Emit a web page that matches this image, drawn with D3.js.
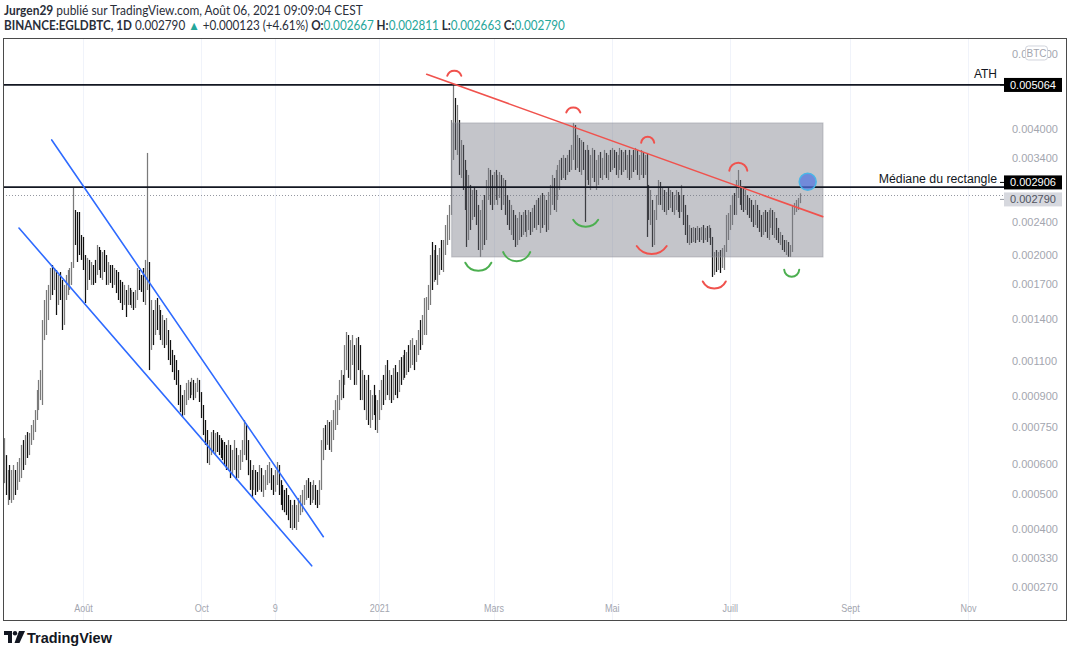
<!DOCTYPE html>
<html>
<head>
<meta charset="utf-8">
<script src="https://cdn.jsdelivr.net/npm/d3@7/dist/d3.min.js"></script>
<style>
html,body{margin:0;padding:0;background:#fff;}
svg{display:block;font-family:"Liberation Sans",Arial,sans-serif;}
</style>
</head>
<body>
<svg id="chart" width="1072" height="654"></svg>
<script>
// ===== DATA (EGLD/BTC daily bars, Binance) =====
const firstBarDate = "2020-06-21";
const high = [
702e-6,634e-6,579e-6,597e-6,579e-6,597e-6,579e-6,608e-6,623e-6,674e-6,
694e-6,715e-6,728e-6,724e-6,759e-6,782e-6,829e-6,932e-6,988e-6,1046e-6,
1391e-6,1557e-6,1647e-6,1694e-6,1862e-6,1893e-6,1862e-6,1841e-6,1791e-6,1821e-6,
1742e-6,1694e-6,1791e-6,1841e-6,1862e-6,1925e-6,2894e-6,2565e-6,2537e-6,2537e-6,
2235e-6,2211e-6,2001e-6,1969e-6,1947e-6,1925e-6,1893e-6,1947e-6,2115e-6,2092e-6,
2057e-6,2035e-6,2057e-6,2001e-6,1925e-6,1893e-6,1893e-6,1862e-6,1841e-6,1821e-6,
1742e-6,1723e-6,1694e-6,1647e-6,1694e-6,1666e-6,1647e-6,1629e-6,1647e-6,1862e-6,
1841e-6,1791e-6,1862e-6,1947e-6,3503e-6,1925e-6,1557e-6,1472e-6,1557e-6,1575e-6,
1514e-6,1472e-6,1431e-6,1391e-6,1407e-6,1315e-6,1242e-6,1174e-6,1140e-6,1108e-6,
1046e-6,960e-6,905e-6,932e-6,971e-6,988e-6,977e-6,1000e-6,988e-6,971e-6,
1000e-6,988e-6,921e-6,854e-6,782e-6,737e-6,694e-6,728e-6,737e-6,724e-6,
728e-6,715e-6,702e-6,694e-6,686e-6,674e-6,694e-6,674e-6,654e-6,694e-6,
662e-6,634e-6,654e-6,694e-6,782e-6,759e-6,694e-6,615e-6,579e-6,597e-6,
579e-6,572e-6,597e-6,586e-6,561e-6,579e-6,597e-6,608e-6,586e-6,561e-6,
579e-6,608e-6,597e-6,544e-6,528e-6,512e-6,518e-6,496e-6,481e-6,466e-6,
481e-6,466e-6,487e-6,496e-6,512e-6,528e-6,544e-6,551e-6,538e-6,528e-6,
544e-6,528e-6,512e-6,544e-6,694e-6,746e-6,759e-6,782e-6,773e-6,782e-6,
829e-6,879e-6,905e-6,988e-6,1046e-6,1017e-6,1207e-6,1300e-6,1278e-6,1242e-6,
1278e-6,1207e-6,1256e-6,1264e-6,1207e-6,1046e-6,1017e-6,988e-6,1017e-6,932e-6,
905e-6,960e-6,905e-6,879e-6,932e-6,988e-6,1017e-6,1077e-6,1108e-6,1046e-6,
1017e-6,1058e-6,1077e-6,1034e-6,1108e-6,1127e-6,1140e-6,1174e-6,1160e-6,1207e-6,
1242e-6,1256e-6,1207e-6,1242e-6,1315e-6,1391e-6,1431e-6,1575e-6,1583e-6,1694e-6,
2001e-6,2150e-6,2057e-6,2115e-6,2001e-6,2080e-6,2174e-6,2174e-6,2362e-6,2496e-6,
2637e-6,4190e-6,5064e-6,4720e-6,4545e-6,4190e-6,3759e-6,3659e-6,3372e-6,3193e-6,
3107e-6,2942e-6,2862e-6,2910e-6,2862e-6,2637e-6,2565e-6,2710e-6,2785e-6,3023e-6,
3228e-6,3193e-6,3107e-6,3158e-6,3193e-6,3107e-6,3158e-6,3107e-6,3056e-6,3023e-6,
2785e-6,2710e-6,2637e-6,2565e-6,2496e-6,2455e-6,2537e-6,2496e-6,2537e-6,2565e-6,
2496e-6,2565e-6,2537e-6,2594e-6,2637e-6,2710e-6,2740e-6,2785e-6,2815e-6,2785e-6,
2710e-6,2831e-6,2942e-6,3107e-6,3056e-6,3193e-6,3281e-6,3372e-6,3410e-6,3465e-6,
3410e-6,3465e-6,3561e-6,3659e-6,4123e-6,4078e-6,3863e-6,3800e-6,3759e-6,3719e-6,
3561e-6,3659e-6,3561e-6,3465e-6,3600e-6,3561e-6,3372e-6,3465e-6,3522e-6,3410e-6,
3561e-6,3503e-6,3465e-6,3561e-6,3600e-6,3561e-6,3522e-6,3465e-6,3600e-6,3561e-6,
3522e-6,3561e-6,3465e-6,3561e-6,3465e-6,3561e-6,3600e-6,3561e-6,3465e-6,3561e-6,
3522e-6,3465e-6,3503e-6,2942e-6,2862e-6,2710e-6,2565e-6,2785e-6,3023e-6,2990e-6,
2894e-6,2862e-6,2831e-6,2894e-6,2862e-6,2831e-6,2785e-6,2862e-6,2831e-6,2785e-6,
2942e-6,2785e-6,2637e-6,2496e-6,2362e-6,2324e-6,2336e-6,2324e-6,2349e-6,2324e-6,
2336e-6,2362e-6,2324e-6,2349e-6,2362e-6,2324e-6,2211e-6,2035e-6,2057e-6,2035e-6,
2057e-6,2080e-6,2115e-6,2496e-6,2523e-6,2637e-6,2785e-6,2815e-6,3023e-6,3193e-6,
3023e-6,2910e-6,2894e-6,2862e-6,2785e-6,2740e-6,2710e-6,2637e-6,2710e-6,2637e-6,
2565e-6,2496e-6,2537e-6,2565e-6,2537e-6,2565e-6,2594e-6,2565e-6,2537e-6,2455e-6,
2324e-6,2273e-6,2235e-6,2174e-6,2174e-6,2150e-6,2115e-6,2637e-6,2666e-6,2710e-6,
2740e-6,2811e-6];
const low = [
534e-6,496e-6,466e-6,481e-6,472e-6,481e-6,496e-6,512e-6,538e-6,551e-6,
579e-6,597e-6,623e-6,634e-6,674e-6,694e-6,728e-6,782e-6,829e-6,879e-6,
854e-6,1242e-6,1278e-6,1391e-6,1557e-6,1601e-6,1647e-6,1431e-6,1514e-6,1557e-6,
1315e-6,1353e-6,1557e-6,1601e-6,1647e-6,1694e-6,1862e-6,2115e-6,1925e-6,2001e-6,
1947e-6,1841e-6,1531e-6,1647e-6,1742e-6,1694e-6,1694e-6,1713e-6,1791e-6,1841e-6,
1762e-6,1742e-6,1821e-6,1694e-6,1694e-6,1713e-6,1666e-6,1694e-6,1619e-6,1557e-6,
1531e-6,1472e-6,1514e-6,1415e-6,1514e-6,1514e-6,1489e-6,1472e-6,1489e-6,1557e-6,
1647e-6,1629e-6,1540e-6,1514e-6,1647e-6,1046e-6,1174e-6,1207e-6,1278e-6,1315e-6,
1278e-6,1242e-6,1207e-6,1187e-6,1207e-6,1108e-6,1077e-6,1034e-6,988e-6,960e-6,
854e-6,819e-6,796e-6,805e-6,854e-6,879e-6,889e-6,905e-6,879e-6,889e-6,
921e-6,869e-6,791e-6,715e-6,674e-6,604e-6,597e-6,634e-6,646e-6,634e-6,
646e-6,634e-6,623e-6,615e-6,597e-6,579e-6,579e-6,551e-6,561e-6,579e-6,
544e-6,551e-6,579e-6,608e-6,634e-6,615e-6,561e-6,512e-6,490e-6,512e-6,
496e-6,506e-6,512e-6,506e-6,490e-6,512e-6,528e-6,534e-6,512e-6,496e-6,
506e-6,528e-6,496e-6,466e-6,451e-6,445e-6,437e-6,423e-6,402e-6,397e-6,
402e-6,397e-6,418e-6,437e-6,445e-6,466e-6,481e-6,487e-6,466e-6,472e-6,
481e-6,466e-6,457e-6,466e-6,512e-6,615e-6,654e-6,674e-6,654e-6,646e-6,
694e-6,737e-6,759e-6,829e-6,879e-6,889e-6,960e-6,1046e-6,1000e-6,988e-6,
1077e-6,960e-6,960e-6,1046e-6,879e-6,879e-6,829e-6,782e-6,759e-6,746e-6,
782e-6,805e-6,737e-6,724e-6,782e-6,829e-6,854e-6,879e-6,905e-6,879e-6,
864e-6,879e-6,905e-6,889e-6,921e-6,960e-6,988e-6,1000e-6,1017e-6,1034e-6,
1058e-6,1077e-6,1046e-6,1096e-6,1140e-6,1174e-6,1207e-6,1278e-6,1278e-6,1472e-6,
1514e-6,1647e-6,1723e-6,1742e-6,1694e-6,1791e-6,1841e-6,1821e-6,2001e-6,2115e-6,
2174e-6,2496e-6,3372e-6,3561e-6,3465e-6,3107e-6,3056e-6,2862e-6,2565e-6,2092e-6,
2174e-6,2298e-6,2428e-6,2469e-6,2362e-6,2057e-6,1979e-6,2057e-6,2115e-6,2174e-6,
2710e-6,2637e-6,2565e-6,2637e-6,2710e-6,2637e-6,2740e-6,2565e-6,2637e-6,2496e-6,
2362e-6,2298e-6,2235e-6,2174e-6,2092e-6,2115e-6,2174e-6,2211e-6,2235e-6,2273e-6,
2211e-6,2298e-6,2235e-6,2273e-6,2324e-6,2298e-6,2362e-6,2260e-6,2324e-6,2362e-6,
2273e-6,2298e-6,2496e-6,2637e-6,2565e-6,2537e-6,2710e-6,2862e-6,3023e-6,3056e-6,
3023e-6,3107e-6,3158e-6,3193e-6,3372e-6,3193e-6,3228e-6,3158e-6,3107e-6,3193e-6,
2402e-6,3023e-6,2942e-6,2862e-6,3056e-6,2990e-6,2862e-6,2942e-6,3056e-6,3023e-6,
3107e-6,3056e-6,3023e-6,3158e-6,3193e-6,3228e-6,3107e-6,3056e-6,3193e-6,3107e-6,
3158e-6,3193e-6,3056e-6,3023e-6,3056e-6,3158e-6,3193e-6,3107e-6,3023e-6,3107e-6,
3056e-6,3107e-6,2211e-6,2428e-6,2362e-6,2092e-6,2115e-6,2428e-6,2637e-6,2637e-6,
2565e-6,2537e-6,2496e-6,2565e-6,2594e-6,2537e-6,2496e-6,2565e-6,2537e-6,2455e-6,
2537e-6,2362e-6,2235e-6,2139e-6,2115e-6,2139e-6,2150e-6,2139e-6,2174e-6,2150e-6,
2174e-6,2139e-6,2174e-6,2150e-6,2199e-6,2115e-6,1771e-6,1791e-6,1821e-6,1841e-6,
1811e-6,1862e-6,1841e-6,2035e-6,2174e-6,2298e-6,2362e-6,2496e-6,2496e-6,2740e-6,
2637e-6,2565e-6,2537e-6,2565e-6,2496e-6,2455e-6,2402e-6,2336e-6,2362e-6,2324e-6,
2273e-6,2211e-6,2235e-6,2273e-6,2199e-6,2174e-6,2324e-6,2235e-6,2199e-6,2174e-6,
2139e-6,2115e-6,2057e-6,2035e-6,2001e-6,1979e-6,1979e-6,2035e-6,2496e-6,2537e-6,
2565e-6,2663e-6];
const close = [
579e-6,512e-6,544e-6,496e-6,528e-6,551e-6,512e-6,579e-6,597e-6,654e-6,
608e-6,694e-6,654e-6,702e-6,737e-6,759e-6,805e-6,905e-6,943e-6,1000e-6,
1353e-6,1472e-6,1557e-6,1601e-6,1791e-6,1694e-6,1811e-6,1557e-6,1742e-6,1647e-6,
1407e-6,1601e-6,1694e-6,1742e-6,1791e-6,1862e-6,2496e-6,2428e-6,2174e-6,2115e-6,
2057e-6,1925e-6,1647e-6,1893e-6,1841e-6,1841e-6,1791e-6,1742e-6,2057e-6,2001e-6,
1841e-6,1969e-6,1925e-6,1791e-6,1841e-6,1791e-6,1742e-6,1821e-6,1694e-6,1629e-6,
1601e-6,1557e-6,1647e-6,1514e-6,1629e-6,1575e-6,1601e-6,1514e-6,1557e-6,1791e-6,
1723e-6,1666e-6,1601e-6,1841e-6,1893e-6,1315e-6,1391e-6,1315e-6,1489e-6,1391e-6,
1431e-6,1315e-6,1353e-6,1242e-6,1278e-6,1140e-6,1108e-6,1096e-6,1017e-6,1000e-6,
905e-6,854e-6,829e-6,905e-6,905e-6,960e-6,932e-6,960e-6,932e-6,943e-6,
977e-6,889e-6,805e-6,737e-6,694e-6,654e-6,662e-6,694e-6,674e-6,694e-6,
674e-6,662e-6,654e-6,646e-6,623e-6,597e-6,662e-6,579e-6,623e-6,654e-6,
572e-6,608e-6,634e-6,662e-6,737e-6,654e-6,586e-6,538e-6,518e-6,561e-6,
544e-6,528e-6,579e-6,518e-6,544e-6,551e-6,572e-6,586e-6,528e-6,518e-6,
551e-6,579e-6,512e-6,487e-6,475e-6,466e-6,451e-6,437e-6,418e-6,445e-6,
423e-6,451e-6,466e-6,481e-6,496e-6,518e-6,528e-6,512e-6,481e-6,506e-6,
518e-6,487e-6,475e-6,528e-6,654e-6,715e-6,694e-6,737e-6,674e-6,759e-6,
782e-6,854e-6,879e-6,932e-6,1000e-6,960e-6,1174e-6,1207e-6,1034e-6,1174e-6,
1207e-6,988e-6,1174e-6,1108e-6,932e-6,1000e-6,854e-6,905e-6,791e-6,829e-6,
879e-6,854e-6,759e-6,829e-6,889e-6,960e-6,889e-6,1034e-6,932e-6,960e-6,
905e-6,1017e-6,960e-6,932e-6,1046e-6,1017e-6,1077e-6,1046e-6,1121e-6,1077e-6,
1160e-6,1207e-6,1140e-6,1207e-6,1256e-6,1242e-6,1353e-6,1514e-6,1557e-6,1557e-6,
1925e-6,1791e-6,1947e-6,1841e-6,1925e-6,2001e-6,1893e-6,2080e-6,2273e-6,2362e-6,
2496e-6,3465e-6,4190e-6,3759e-6,4078e-6,3281e-6,3561e-6,3023e-6,2710e-6,2235e-6,
2710e-6,2496e-6,2785e-6,2565e-6,2428e-6,2174e-6,2298e-6,2565e-6,2174e-6,2862e-6,
2942e-6,2785e-6,2710e-6,3023e-6,2862e-6,2942e-6,3023e-6,2710e-6,2862e-6,2565e-6,
2496e-6,2362e-6,2402e-6,2273e-6,2174e-6,2298e-6,2362e-6,2298e-6,2428e-6,2324e-6,
2362e-6,2496e-6,2298e-6,2455e-6,2402e-6,2565e-6,2428e-6,2637e-6,2496e-6,2710e-6,
2362e-6,2740e-6,2831e-6,2942e-6,2710e-6,3056e-6,3107e-6,3281e-6,3158e-6,3372e-6,
3228e-6,3336e-6,3281e-6,3561e-6,3969e-6,3372e-6,3659e-6,3281e-6,3561e-6,3336e-6,
3193e-6,3372e-6,3107e-6,3281e-6,3465e-6,3107e-6,3193e-6,3336e-6,3193e-6,3281e-6,
3465e-6,3158e-6,3372e-6,3281e-6,3465e-6,3336e-6,3193e-6,3372e-6,3522e-6,3228e-6,
3410e-6,3281e-6,3372e-6,3107e-6,3372e-6,3281e-6,3465e-6,3193e-6,3281e-6,3410e-6,
3158e-6,3372e-6,2710e-6,2565e-6,2785e-6,2235e-6,2496e-6,2710e-6,2942e-6,2740e-6,
2831e-6,2637e-6,2740e-6,2710e-6,2785e-6,2594e-6,2710e-6,2740e-6,2637e-6,2565e-6,
2710e-6,2455e-6,2324e-6,2199e-6,2273e-6,2174e-6,2273e-6,2199e-6,2298e-6,2235e-6,
2273e-6,2199e-6,2273e-6,2223e-6,2298e-6,2174e-6,1925e-6,1969e-6,1862e-6,1990e-6,
1893e-6,2001e-6,2057e-6,2362e-6,2428e-6,2496e-6,2637e-6,2565e-6,2831e-6,2894e-6,
2785e-6,2710e-6,2637e-6,2740e-6,2594e-6,2537e-6,2455e-6,2402e-6,2565e-6,2362e-6,
2324e-6,2273e-6,2428e-6,2324e-6,2235e-6,2455e-6,2496e-6,2298e-6,2362e-6,2235e-6,
2174e-6,2199e-6,2115e-6,2080e-6,2150e-6,2035e-6,2057e-6,2565e-6,2594e-6,2623e-6,
2667e-6,2790e-6];

// price scale ticks (as labelled on the right axis)
const priceTicks = [0.006, 0.004, 0.0034, 0.0024, 0.002, 0.0017, 0.0014, 0.0011, 0.0009, 0.00075, 0.0006, 0.0005, 0.0004, 0.00033, 0.00027];
// time axis ticks and their labels
const timeTicks = ["2020-08-01", "2020-10-01", "2020-11-08", "2021-01-01", "2021-03-01", "2021-05-01", "2021-07-01", "2021-09-01", "2021-11-01"];
const timeLabels = ["Août", "Oct", "9", "2021", "Mars", "Mai", "Juill", "Sept", "Nov"];

// horizontal levels
const levelPrices = [0.005064, 0.002906];
const levelNames = ["ATH", "Médiane du rectangle"];
const lastPrice = 0.002790;

// drawings (time, price)
const trendRed = [["2021-01-25T11:00Z", 0.005365], ["2021-08-17T23:00Z", 0.002473]];
const channelUpper = [["2020-07-15T20:00Z", 0.003760], ["2020-12-03T02:00Z", 0.000380]];
const channelLower = [["2020-06-28T22:00Z", 0.002323], ["2020-11-27T02:00Z", 0.000313]];
const rangeBox = [["2021-02-07T09:00Z", 0.004123], ["2021-08-18T03:00Z", 0.001979]];
const arcDates = ["2021-02-08T17:00Z", "2021-04-11T04:00Z", "2021-05-19T14:00Z", "2021-07-05T09:00Z", "2021-05-21T16:00Z", "2021-06-22T23:30Z", "2021-02-21T03:00Z", "2021-03-12T22:30Z", "2021-04-17T13:40Z", "2021-08-01T23:00Z"];
const arcPrices = [0.005394, 0.004424, 0.003773, 0.003251, 0.002057, 0.001694, 0.001875, 0.001983, 0.002384, 0.001808];
const arcKinds = ["top", "top", "top", "top", "bottom", "bottom", "bottom", "bottom", "bottom", "bottom"];
const arcTones = ["red", "red", "red", "red", "red", "red", "green", "green", "green", "green"];
const breakoutPoint = ["2021-08-10T05:00Z", 0.002995];

// ===== STYLE / LAYOUT =====
const W = 1072, H = 654;
const plot = {l: 3, r: 1005, t: 38, b: 596};
const arcW = [14, 14, 13, 18, 30, 23, 26, 27, 25, 15];
const arcH = [5, 5, 7, 8, 8, 7, 8, 9, 7, 7];
const toneColor = {red: "#f0524d", green: "#4caf50"};
const dark = "#131722";

const svg = d3.select("#chart");
svg.append("rect").attr("width", W).attr("height", H).attr("fill", "#fff");

const x = d3.scaleUtc()
  .domain([new Date("2020-06-20T16:06Z"), new Date("2021-11-20T02:24Z")])
  .range([plot.l, plot.r]);
const y = d3.scaleSymlog().constant(0.0000885)
  .domain([0.0002535, 0.006522])
  .range([plot.b, plot.t]);
const T = s => new Date(s.length === 10 ? s + "T00:00Z" : s);

svg.append("defs").append("clipPath").attr("id", "plotclip")
  .append("rect").attr("x", plot.l).attr("y", plot.t).attr("width", plot.r - plot.l).attr("height", plot.b - plot.t);

// vertical grid
const tickDates = timeTicks.map(T);
svg.append("g").selectAll("line").data(tickDates).join("line")
  .attr("x1", d => Math.round(x(d)) + 0.5).attr("x2", d => Math.round(x(d)) + 0.5)
  .attr("y1", plot.t).attr("y2", plot.b + 24)
  .attr("stroke", "#f0f3fa").attr("stroke-width", 1);

const g = svg.append("g").attr("clip-path", "url(#plotclip)");

// current price dotted line
g.append("line").attr("x1", plot.l).attr("x2", plot.r)
  .attr("y1", Math.round(y(lastPrice)) + 0.5).attr("y2", Math.round(y(lastPrice)) + 0.5)
  .attr("stroke", "#9598a1").attr("stroke-width", 1).attr("stroke-dasharray", "1,2");

// bars
const start = T(firstBarDate);
const n = Math.min(high.length, low.length, close.length);
const bars = d3.range(n).map(i => ({
  date: d3.utcDay.offset(start, i), h: high[i], l: low[i], c: close[i],
  up: i === 0 ? true : close[i] >= close[i - 1]
}));
g.append("g").selectAll("line").data(bars).join("line")
  .attr("x1", d => Math.round(x(d.date)) + 0.5)
  .attr("x2", d => Math.round(x(d.date)) + 0.5)
  .attr("y1", d => y(d.h)).attr("y2", d => y(d.l))
  .attr("stroke", d => d.up ? "#7a7a7a" : "#111111")
  .attr("stroke-width", 1.25);

// range rectangle
const rx0 = x(T(rangeBox[0][0])), rx1 = x(T(rangeBox[1][0]));
const ry0 = y(rangeBox[0][1]), ry1 = y(rangeBox[1][1]);
g.append("rect").attr("x", rx0).attr("y", ry0).attr("width", rx1 - rx0).attr("height", ry1 - ry0)
  .attr("fill", "rgba(118,121,132,0.43)").attr("stroke", "rgba(150,152,160,0.5)").attr("stroke-width", 1);

// horizontal levels
levelPrices.forEach(p => {
  const yy = y(p);
  g.append("line").attr("x1", plot.l).attr("x2", plot.r).attr("y1", yy).attr("y2", yy)
    .attr("stroke", dark).attr("stroke-width", 1.8);
});

// trend / channel lines
const seg = (pts, color) => g.append("line")
  .attr("x1", x(T(pts[0][0]))).attr("y1", y(pts[0][1]))
  .attr("x2", x(T(pts[1][0]))).attr("y2", y(pts[1][1]))
  .attr("stroke", color).attr("stroke-width", 1.6).attr("stroke-linecap", "round");
seg(channelUpper, "#2f6bff");
seg(channelLower, "#2f6bff");
seg(trendRed, "#f0524d");

// arcs
arcDates.forEach((ds, i) => {
  const cx = x(T(ds)), cy = y(arcPrices[i]);
  const w = arcW[i], h = arcH[i];
  const r = (w * w / 4 + h * h) / (2 * h);
  let d;
  if (arcKinds[i] === "top") {
    const y0 = cy + h / 2;
    d = `M${cx - w / 2},${y0} A${r},${r} 0 0 1 ${cx + w / 2},${y0}`;
  } else {
    const y0 = cy - h / 2;
    d = `M${cx - w / 2},${y0} A${r},${r} 0 0 0 ${cx + w / 2},${y0}`;
  }
  g.append("path").attr("d", d).attr("fill", "none")
    .attr("stroke", toneColor[arcTones[i]]).attr("stroke-width", 2).attr("stroke-linecap", "round");
});

// breakout circle
g.append("circle").attr("cx", x(T(breakoutPoint[0]))).attr("cy", y(breakoutPoint[1])).attr("r", 8.5)
  .attr("fill", "rgba(80,115,225,0.72)").attr("stroke", "#49b6e8").attr("stroke-width", 1.5);

// level names
svg.append("text").attr("x", 997).attr("y", y(levelPrices[0]) - 7).attr("text-anchor", "end")
  .attr("font-size", 12).attr("fill", dark).text(levelNames[0]);
svg.append("text").attr("x", 997).attr("y", y(levelPrices[1]) - 4).attr("text-anchor", "end")
  .attr("font-size", 12.3).attr("fill", dark).text(levelNames[1]);

// ===== AXES =====
const xAxis = d3.axisBottom(x).tickValues(tickDates)
  .tickFormat((d, i) => timeLabels[i]).tickSize(0).tickPadding(0);
const gx = svg.append("g").attr("transform", `translate(0,${plot.b})`).call(xAxis);
gx.select(".domain").remove();
gx.selectAll("text").attr("y", 12).attr("dy", "0.35em")
  .attr("font-size", 11).attr("fill", "#a3a6af")
  .attr("font-family", "'Liberation Sans',Arial,sans-serif")
  .attr("transform", "scale(0.82,1)");

const yAxis = d3.axisRight(y).tickValues(priceTicks).tickFormat(d3.format(".6f")).tickSize(0).tickPadding(7);
const gy = svg.append("g").attr("transform", `translate(${plot.r},0)`).call(yAxis);
gy.select(".domain").remove();
gy.selectAll("text").attr("font-size", 11).attr("fill", "#a3a6af")
  .attr("font-family", "'Liberation Sans',Arial,sans-serif");

// BTC badge over the top tick
const btcY = y(priceTicks[0]);
svg.append("rect").attr("x", 1025.5).attr("y", btcY - 7.5).attr("width", 22).attr("height", 14).attr("rx", 3)
  .attr("fill", "#fff").attr("stroke", "#d1d4dc");
svg.append("text").attr("x", 1036.5).attr("y", btcY).attr("dy", "0.35em").attr("text-anchor", "middle")
  .attr("font-size", 10).attr("fill", "#a3a6af").text("BTC");

// highlighted price labels
let yAth = y(levelPrices[0]), yMed = y(levelPrices[1]), yLast = y(lastPrice);
if (yLast - yMed < 15) { const m = (yLast + yMed) / 2; yMed = m - 8.5; yLast = m + 8.5; }
const fmt = d3.format(".6f");
const priceTag = (yy, p, bg, fg) => {
  svg.append("line").attr("x1", 1000).attr("x2", 1005).attr("y1", yy).attr("y2", yy).attr("stroke", bg === "#000" ? "#000" : "#9598a1");
  svg.append("rect").attr("x", 1004).attr("y", yy - 7).attr("width", 58).attr("height", 14).attr("fill", bg);
  svg.append("text").attr("x", 1010).attr("y", yy).attr("dy", "0.35em").attr("font-size", 11)
    .attr("fill", fg).text(fmt(p));
};
priceTag(yAth, levelPrices[0], "#000", "#fff");
priceTag(yMed, levelPrices[1], "#000", "#fff");
priceTag(yLast, lastPrice, "#d6d8de", "#50535e");

// frame
svg.append("rect").attr("x", 3.5).attr("y", 38.5).attr("width", 1063).attr("height", 582)
  .attr("fill", "none").attr("stroke", "#4a4a4a").attr("stroke-width", 1);

// ===== HEADER =====
const fitLine = (gx0, gy0, targetW, parts, size) => {
  const gg = svg.append("g");
  const t = gg.append("text").attr("x", 0).attr("y", 0).attr("font-size", size)
    .attr("font-family", "Lato,'Liberation Sans',Arial,sans-serif");
  parts.forEach(p => t.append("tspan").attr("font-weight", p[2] ? "bold" : "normal").attr("fill", p[1]).text(p[0]));
  const w = t.node().getComputedTextLength();
  gg.attr("transform", `translate(${gx0},${gy0}) scale(${targetW / w},1)`);
};
const teal = "#26a69a", txt = "#2a2e39";
fitLine(4, 15, 359, [["Jurgen29", txt, true], [" publié sur TradingView.com, Août 06, 2021 09:09:04 CEST", txt, false]], 12.5);
fitLine(4, 30, 561, [
  ["BINANCE:EGLDBTC, 1D", txt, true], [" 0.002790 ", txt, false], ["▲", teal, false],
  [" +0.000123 (+4.61%) ", txt, false],
  ["O:", txt, true], ["0.002667", teal, false],
  [" H:", txt, true], ["0.002811", teal, false],
  [" L:", txt, true], ["0.002663", teal, false],
  [" C:", txt, true], ["0.002790", teal, false]
], 12.5);

// ===== FOOTER LOGO =====
const logo = svg.append("g").attr("transform", "translate(4,631)");
logo.append("path").attr("d", "M0,0 H8 V12 H4 V4 H0 Z").attr("fill", dark);
logo.append("circle").attr("cx", 11).attr("cy", 2.2).attr("r", 2.2).attr("fill", dark);
logo.append("path").attr("d", "M15,0 H21 L15.5,12 H10.5 Z").attr("fill", dark);
const lt = svg.append("g");
const ltt = lt.append("text").attr("x", 0).attr("y", 0).attr("font-size", 15).attr("font-weight", "bold")
  .attr("fill", dark).attr("font-family", "'Liberation Sans',Arial,sans-serif").text("TradingView");
const lw = ltt.node().getComputedTextLength();
lt.attr("transform", `translate(27,643) scale(${85 / lw},1)`);
</script>
</body>
</html>
